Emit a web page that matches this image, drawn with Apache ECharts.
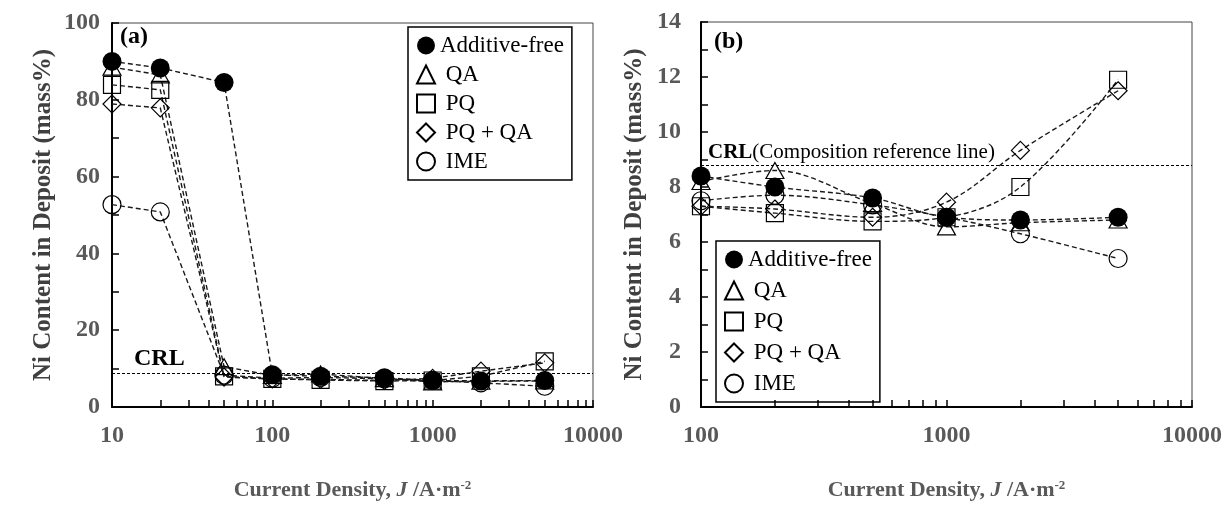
<!DOCTYPE html>
<html>
<head>
<meta charset="utf-8">
<script src="https://cdn.jsdelivr.net/npm/echarts@6/dist/echarts.min.js"></script>
<style>
html, body { margin: 0; padding: 0; background: #fff; }
#main { width: 1225px; height: 506px; }
</style>
</head>
<body>
<div id="main"></div>
<script>
// current density J / A m^-2, and Ni content (mass%) of each bath
var currentDensity = [10, 20, 50, 100, 200, 500, 1000, 2000, 5000];
var additiveFree = [90.0, 88.3, 84.5, 8.4, 8.0, 7.6, 6.9, 6.8, 6.9];
var qa = [88.5, 86.5, 10.5, 8.2, 8.6, 7.4, 6.55, 6.7, 6.8];
var pq = [83.9, 82.6, 8.0, 7.3, 7.05, 6.75, 6.9, 8.0, 11.9];
var pqQa = [78.9, 77.9, 7.8, 7.3, 7.2, 6.9, 7.45, 9.33, 11.5];
var ime = [52.7, 50.8, 8.3, 7.5, 7.7, 7.35, 6.9, 6.3, 5.4];
var crlValue = 8.8;

var seriesNames = ['Additive-free', 'QA', 'PQ', 'PQ + QA', 'IME'];
var seriesValues = [additiveFree, qa, pq, pqQa, ime];

// tick marks and labels on the log axes
var xTicksA = [10, 20, 30, 40, 50, 60, 70, 80, 90, 100, 200, 300, 400, 500, 600, 700, 800, 900,
  1000, 2000, 3000, 4000, 5000, 6000, 7000, 8000, 9000, 10000];
var xTicksB = [100, 200, 300, 400, 500, 600, 700, 800, 900,
  1000, 2000, 3000, 4000, 5000, 6000, 7000, 8000, 9000, 10000];
var xLabelsA = [10, 100, 1000, 10000];
var xLabelsB = [100, 1000, 10000];

var serif = 'Liberation Serif';
var symbols = ['circle', 'triangle', 'rect', 'diamond', 'circle'];
var sizes = [19, [18, 16], 17, 18, 18];

var myChart = echarts.init(document.getElementById('main'));

function pairs(values, minJ) {
    var out = [];
    for (var i = 0; i < currentDensity.length; i++) {
        if (currentDensity[i] >= minJ) out.push([currentDensity[i], values[i]]);
    }
    return out;
}

function crlLine(label, dist) {
    return {
        silent: true,
        symbol: 'none',
        animation: false,
        lineStyle: { color: '#000', type: [3, 2], width: 1 },
        label: {
            show: true,
            position: 'insideStartTop',
            distance: dist,
            formatter: label,
            rich: {
                b: { fontFamily: serif, fontWeight: 'bold', fontSize: 21, color: '#000' },
                r: { fontFamily: serif, fontSize: 21, color: '#000' },
                a: { fontFamily: serif, fontWeight: 'bold', fontSize: 24, color: '#000' }
            }
        },
        data: [{ yAxis: crlValue }]
    };
}

var series = [];
[0, 1].forEach(function(p) {
    seriesNames.forEach(function(name, k) {
        var s = {
            name: name,
            type: 'line',
            xAxisIndex: p,
            yAxisIndex: p,
            data: pairs(seriesValues[k], p == 0 ? 10 : 100),
            smooth: p == 1 ? 0.35 : false,
            symbol: symbols[k],
            symbolSize: sizes[k],
            z: k == 0 ? 4 : 3,
            lineStyle: { color: '#1a1a1a', width: 1.4, type: [5, 3] },
            itemStyle: {
                color: k == 0 ? '#000' : 'rgba(0,0,0,0)',
                borderColor: '#000',
                borderWidth: k == 0 ? 0 : 1.2
            }
        };
        if (k == 0) {
            s.markLine = p == 0 ? crlLine('{a|CRL}', [22, 2]) : crlLine('{b|CRL}{r|(Composition reference line)}', [7, 2]);
        }
        series.push(s);
    });
});

function legendData() {
    return seriesNames.map(function(n, k) {
        return { name: n, icon: symbols[k] };
    });
}

var legendBase = {
    orient: 'vertical',
    itemWidth: 18,
    itemHeight: 18,
    itemGap: 6,
    padding: [7, 8, 7, 8],
    borderColor: '#000',
    borderWidth: 1.5,
    selectedMode: false,
    textStyle: { fontFamily: serif, fontSize: 23, color: '#000' },
    formatter: function(n) { return n == 'Additive-free' ? n : ' ' + n; }
};

function xAxisOf(p, min, ticks, labels) {
    return {
        type: 'log',
        logBase: 10,
        gridIndex: p,
        min: min,
        max: 10000,
        axisLine: { lineStyle: { color: '#000', width: 2 } },
        axisTick: { inside: true, length: 7, customValues: ticks, lineStyle: { color: '#000', width: 1.5 } },
        axisLabel: {
            customValues: labels, margin: 17, fontFamily: serif, fontWeight: 'bold', fontSize: 24, color: '#595959',
            formatter: function(v) { return String(Math.round(v)); }
        },
        splitLine: { show: false },
        name: 'Current Density, {i|J} /A·m{s|-2}',
        nameLocation: 'middle',
        nameGap: 72,
        nameTextStyle: {
            fontFamily: serif, fontWeight: 'bold', fontSize: 22, color: '#595959',
            rich: {
                i: { fontFamily: serif, fontWeight: 'bold', fontStyle: 'italic', fontSize: 22, color: '#595959' },
                s: { fontFamily: serif, fontWeight: 'bold', fontSize: 13, color: '#595959', verticalAlign: 'top' }
            }
        }
    };
}

function yAxisOf(p, max, interval, margin, gap) {
    return {
        type: 'value',
        gridIndex: p,
        min: 0,
        max: max,
        interval: interval,
        axisLine: { show: true, lineStyle: { color: '#000', width: 2 } },
        axisTick: { show: true, inside: true, length: 7, lineStyle: { color: '#000', width: 1.5 } },
        minorTick: { show: true, splitNumber: 2, length: 7, lineStyle: { color: '#000', width: 1.5 } },
        axisLabel: { margin: margin, fontFamily: serif, fontWeight: 'bold', fontSize: 24, color: '#595959' },
        splitLine: { show: false },
        name: 'Ni Content in Deposit (mass%)',
        nameLocation: 'middle',
        nameGap: gap,
        nameTextStyle: { fontFamily: serif, fontWeight: 'bold', fontSize: 25, color: '#404040' }
    };
}

var option = {
    backgroundColor: '#fff',
    animation: false,
    title: [
        { text: '(a)', left: 120, top: 25, padding: 0, textStyle: { fontFamily: serif, fontWeight: 'bold', fontSize: 24, color: '#000' } },
        { text: '(b)', left: 714, top: 30, padding: 0, textStyle: { fontFamily: serif, fontWeight: 'bold', fontSize: 24, color: '#000' } }
    ],
    legend: [
        Object.assign({}, legendBase, { left: 408, top: 27, data: legendData() }),
        Object.assign({}, legendBase, { left: 716, top: 241, itemGap: 8, data: legendData() })
    ],
    grid: [
        { left: 112, top: 23, width: 481, height: 384, show: true, borderColor: '#444', borderWidth: 1, backgroundColor: 'transparent' },
        { left: 701, top: 22, width: 491, height: 386, show: true, borderColor: '#444', borderWidth: 1, backgroundColor: 'transparent' }
    ],
    xAxis: [
        xAxisOf(0, 10, xTicksA, xLabelsA),
        xAxisOf(1, 100, xTicksB, xLabelsB)
    ],
    yAxis: [
        yAxisOf(0, 100, 20, 12, 56),
        yAxisOf(1, 14, 2, 20, 54)
    ],
    series: series
};

myChart.setOption(option);
</script>
</body>
</html>
